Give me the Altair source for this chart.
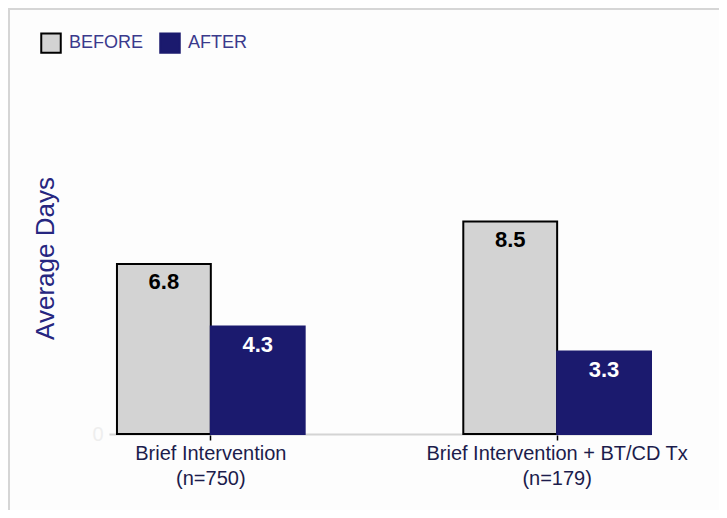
import altair as alt
import pandas as pd

categories = ["Brief Intervention", "Brief Intervention + BT/CD Tx"]
sample_sizes = [750, 179]
periods = ["BEFORE", "AFTER"]
before_values = [6.8, 8.5]
after_values = [4.3, 3.3]

rows = []
for c, n, b, a in zip(categories, sample_sizes, before_values, after_values):
    label = f"{c}\n(n={n})"
    rows.append({"group": label, "period": "BEFORE", "days": b})
    rows.append({"group": label, "period": "AFTER", "days": a})
df = pd.DataFrame(rows)
group_order = [f"{c}\n(n={n})" for c, n in zip(categories, sample_sizes)]

FONT = "Liberation Sans"
NAVY = "#1b1a6e"

x_enc = alt.X(
    "group:N",
    sort=group_order,
    scale=alt.Scale(paddingInner=0.458, paddingOuter=0.0115, align=1),
    axis=alt.Axis(
        title=None,
        labelAngle=0,
        labelExpr="split(datum.label, '\\n')",
        labelFont=FONT,
        labelFontSize=20,
        labelColor="#1c1c4c",
        labelLineHeight=25,
        labelLimit=0,
        labelPadding=3,
        domainColor="#d4d4d4",
        domainWidth=2,
        tickColor="#000000",
        tickSize=6,
        tickWidth=1.5,
    ),
)
xoff = alt.XOffset("period:N", sort=periods, scale=alt.Scale(paddingInner=0, paddingOuter=0))
y_enc = alt.Y(
    "days:Q",
    scale=alt.Scale(domain=[0, 14], nice=False),
    axis=alt.Axis(
        values=[0],
        grid=False,
        domain=False,
        ticks=False,
        labelColor="#eeeeee",
        labelFont=FONT,
        labelFontSize=20,
        labelPadding=6,
        title="Average Days",
        titleFont=FONT,
        titleFontSize=26,
        titleFontWeight="normal",
        titleColor="#262680",
        titleX=-64,
        titleY=174,
        titleAngle=-90,
        titleAlign="center",
        titleBaseline="middle",
    ),
)

color_scale = alt.Scale(domain=periods, range=["#d3d3d3", NAVY])
stroke_scale = alt.Scale(domain=periods, range=["#000000", NAVY])

bars = alt.Chart(df).mark_bar(strokeWidth=2).encode(
    x=x_enc,
    xOffset=xoff,
    y=y_enc,
    fill=alt.Fill(
        "period:N",
        sort=periods,
        scale=color_scale,
        legend=alt.Legend(
            title=None,
            orient="none",
            direction="horizontal",
            legendX=-69,
            legendY=-52,
            symbolType="square",
            symbolSize=380,
            symbolStrokeWidth=2,
            labelFont=FONT,
            labelFontSize=18,
            labelColor="#3a3a8c",
            columnPadding=12,
            labelOffset=7,
        ),
    ),
    stroke=alt.Stroke("period:N", sort=periods, scale=stroke_scale, legend=None),
)

texts = alt.Chart(df).mark_text(
    baseline="middle", dy=18, font=FONT, fontSize=22, fontWeight="bold"
).encode(
    x=alt.X("group:N", sort=group_order),
    xOffset=alt.XOffset("period:N", sort=periods),
    y=alt.Y("days:Q"),
    text=alt.Text("days:Q", format=".1f"),
    color=alt.condition(alt.datum.period == "BEFORE", alt.value("#000000"), alt.value("#ffffff")),
)

frame_left = alt.Chart(pd.DataFrame({"a": [0]})).mark_rule(color="#d6d6d6", strokeWidth=2).encode(
    x=alt.value(-100), y=alt.value(-76), y2=alt.value(426)
)
frame_top = alt.Chart(pd.DataFrame({"a": [0]})).mark_rule(color="#d6d6d6", strokeWidth=2).encode(
    y=alt.value(-75), x=alt.value(-101), x2=alt.value(610)
)

chart = alt.layer(frame_left, frame_top, bars, texts).properties(
    width=542,
    height=350,
    autosize=alt.AutoSizeParams(type="none"),
    padding={"left": 101, "top": 76, "right": 68, "bottom": 76},
    background="#fdfdfd",
).configure_view(stroke=None)

chart.save("out.html", embed_options={"renderer": "svg", "actions": False})
